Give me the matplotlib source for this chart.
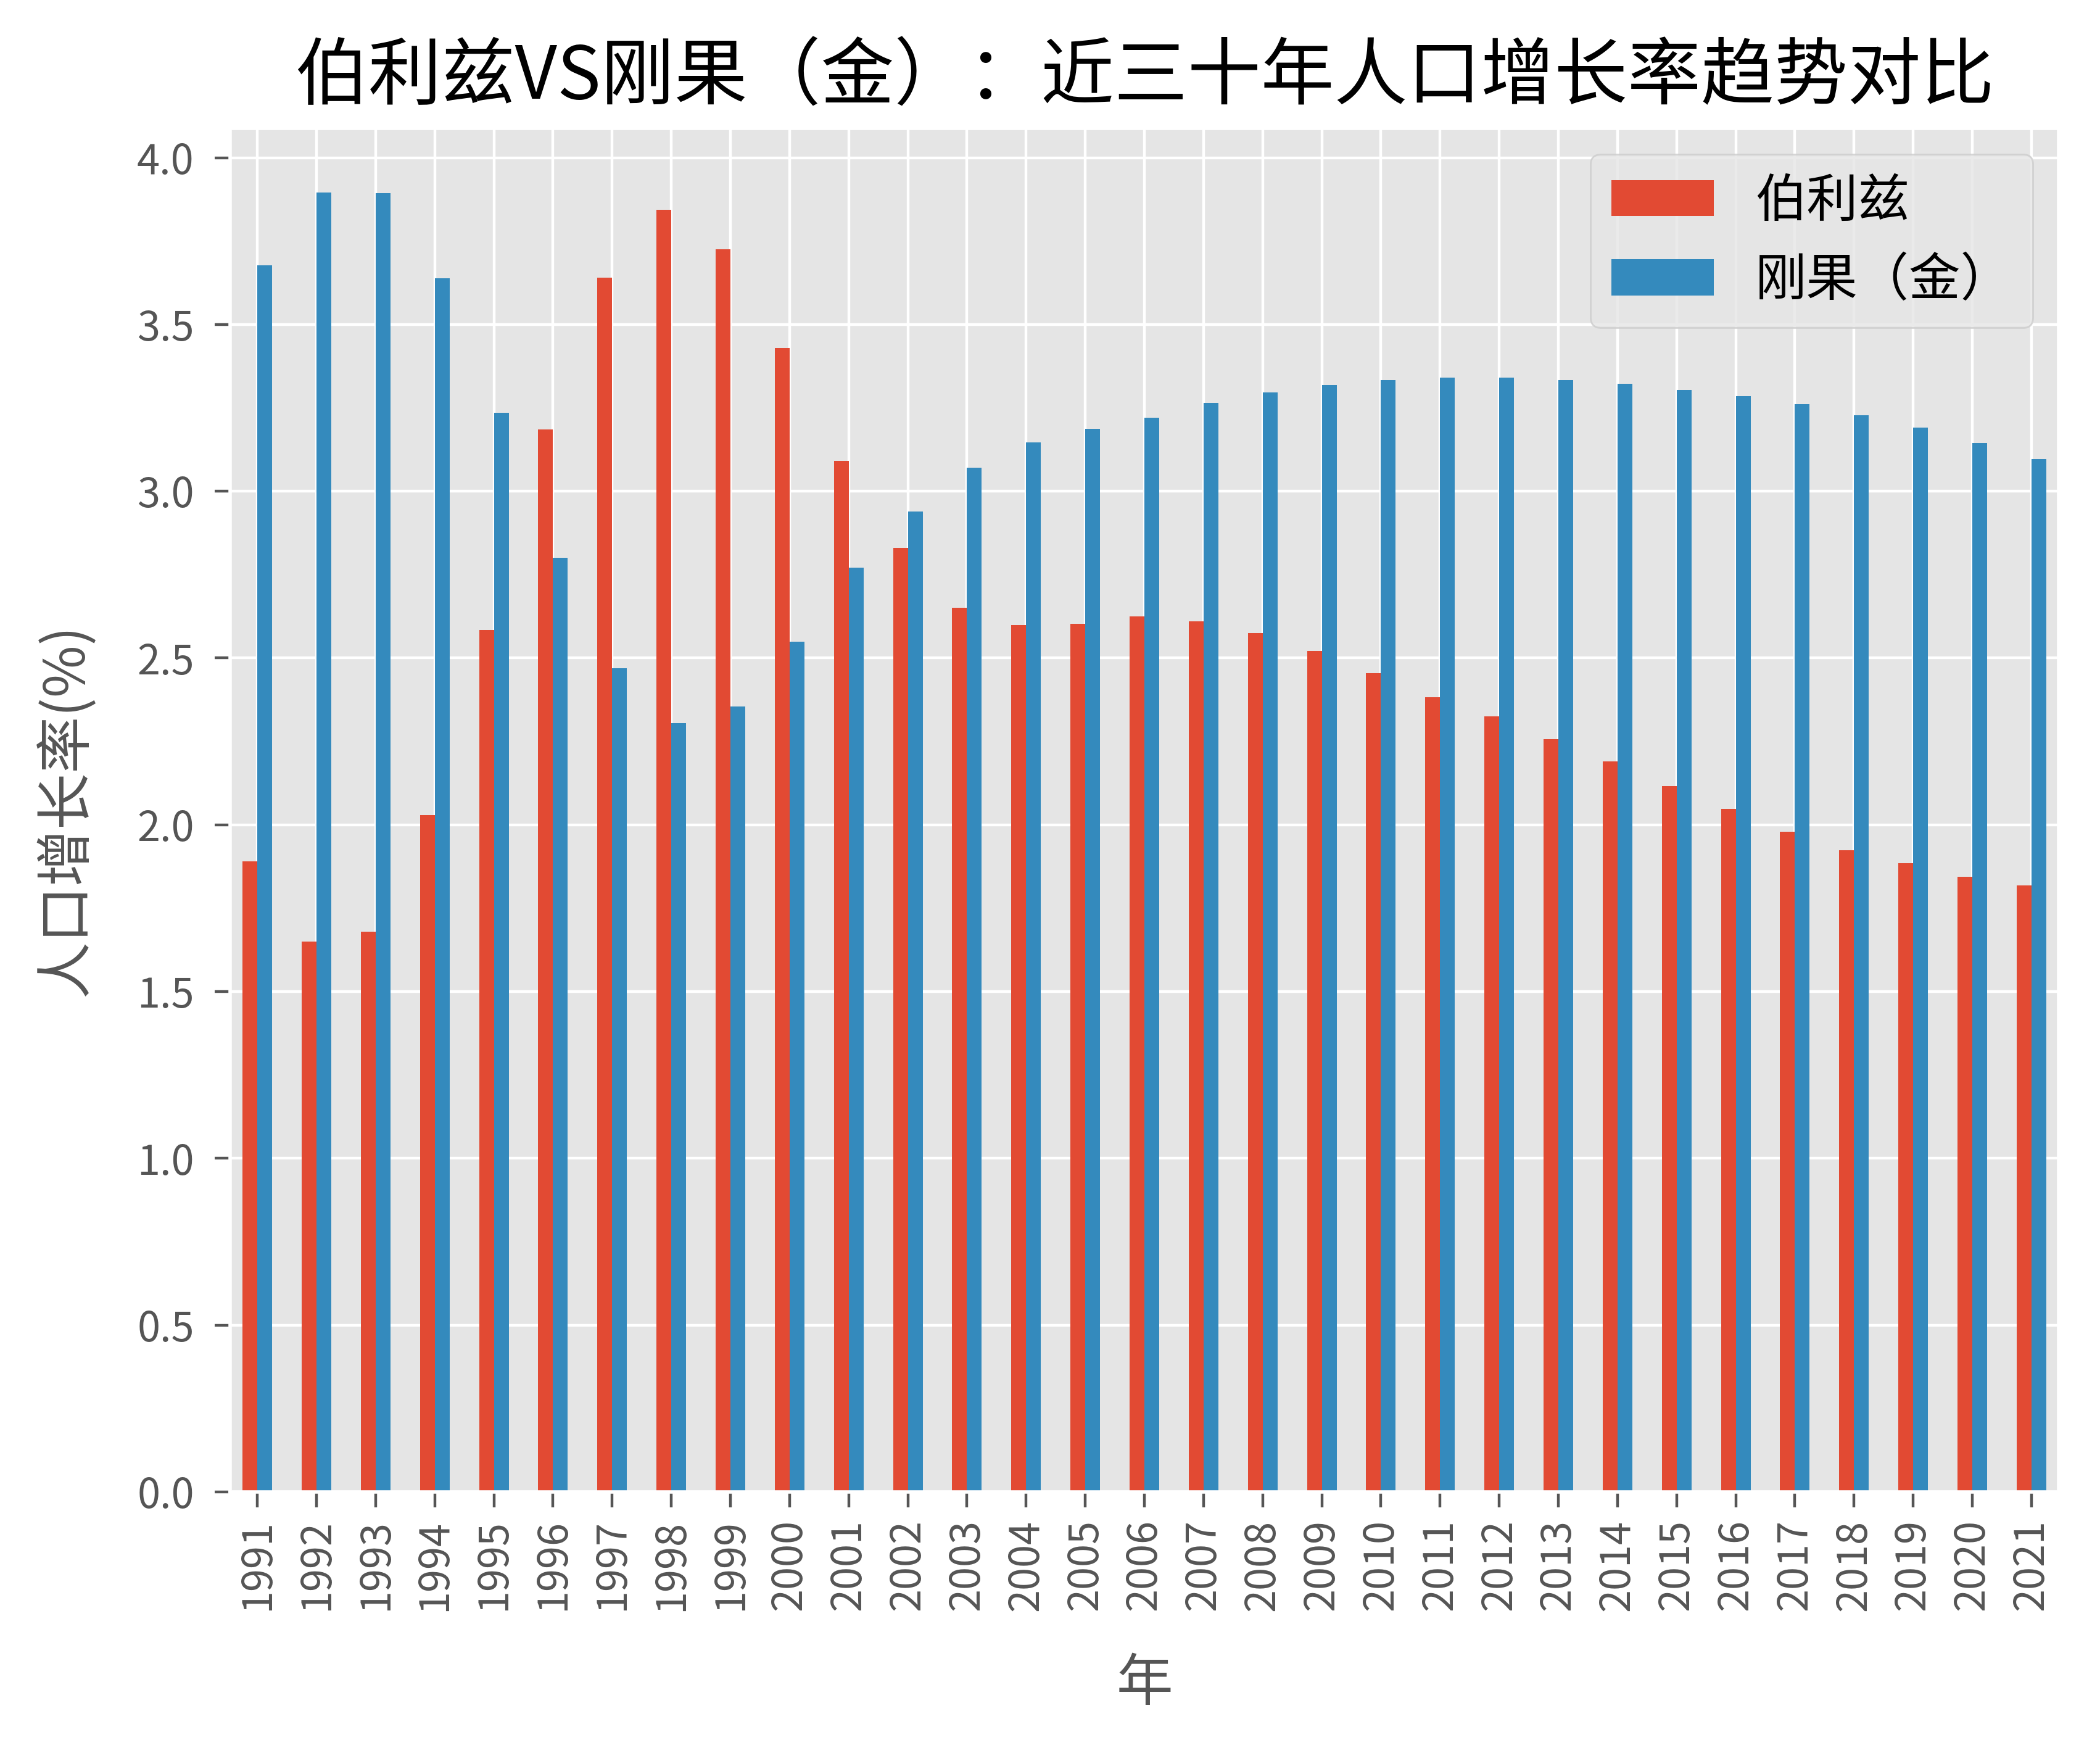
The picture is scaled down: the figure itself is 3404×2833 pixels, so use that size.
import numpy as np
import matplotlib
matplotlib.use("Agg")
import matplotlib.pyplot as plt

plt.style.use("ggplot")
plt.rcParams['font.family'] = ['Noto Sans CJK SC', 'DejaVu Sans']
plt.rcParams['axes.unicode_minus'] = False

# Data
years = list(range(1991, 2022))
belize = [1.89, 1.65, 1.68, 2.03, 2.584, 3.185, 3.64, 3.843, 3.726, 3.43,
          3.09, 2.83, 2.65, 2.598, 2.602, 2.624, 2.61, 2.574, 2.522, 2.454,
          2.382, 2.325, 2.257, 2.19, 2.116, 2.048, 1.98, 1.924, 1.884, 1.845,
          1.818]
congo = [3.678, 3.896, 3.894, 3.638, 3.235, 2.80, 2.469, 2.305, 2.355, 2.549,
         2.771, 2.94, 3.07, 3.147, 3.187, 3.221, 3.264, 3.297, 3.319, 3.333,
         3.340, 3.340, 3.333, 3.323, 3.304, 3.285, 3.261, 3.228, 3.191, 3.144,
         3.097]
series_names = ['伯利兹', '刚果（金）']

fig = plt.figure(figsize=(8.51, 7.0825), dpi=400)
ax = fig.add_axes([0.1096, 0.1465, 0.8707, 0.7801])

x = np.arange(len(years))
w = 0.25
ax.bar(x - w / 2, belize, width=w, color='#E24A33', label=series_names[0])
ax.bar(x + w / 2, congo, width=w, color='#348ABD', label=series_names[1])

ax.set_xticks(x)
ax.set_xticklabels([str(y) for y in years], rotation=90)
ax.set_xlim(-0.46, len(years) - 0.54)
ax.set_ylim(0, 4.088)
ax.set_yticks([0, 0.5, 1.0, 1.5, 2.0, 2.5, 3.0, 3.5, 4.0])
ax.tick_params(axis='both', labelsize=12, length=4.5)
ax.tick_params(axis='y', pad=6)

ax.set_title('伯利兹VS刚果（金）：近三十年人口增长率趋势对比', fontsize=21.4, pad=8.5)
ax.set_xlabel('年', fontsize=16.5, labelpad=13)
ax.set_ylabel('人口增长率(%)', fontsize=16.5, labelpad=12)

ax.legend(loc='upper right', fontsize=15)

fig.savefig('out.png', dpi=400)
